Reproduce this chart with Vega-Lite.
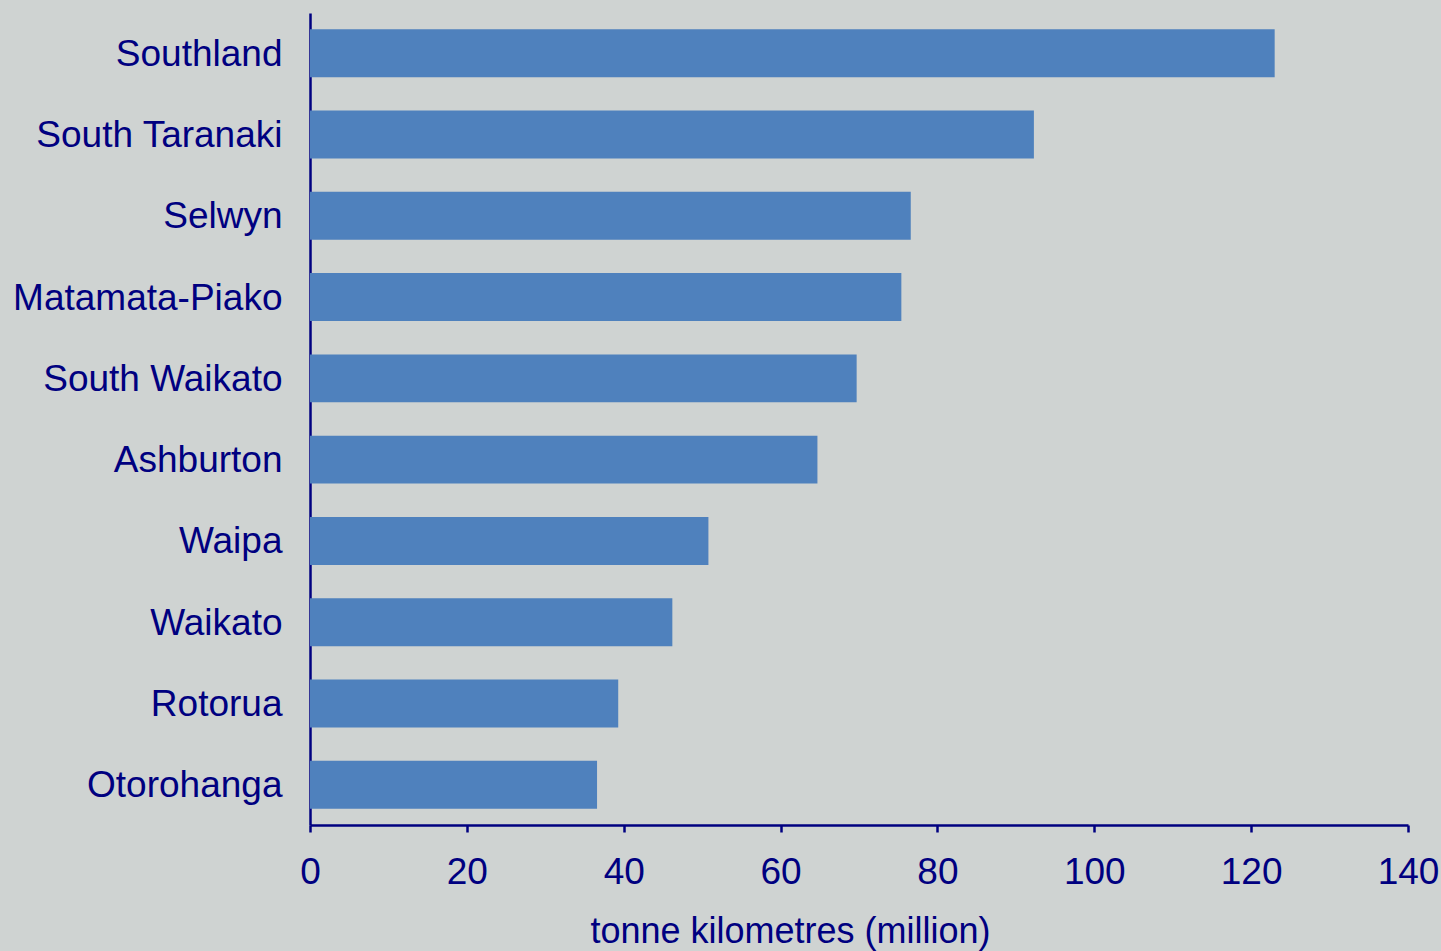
{
  "$schema": "https://vega.github.io/schema/vega-lite/v6.json",
  "autosize": "none",
  "padding": {"left": 310, "top": 13, "right": 33, "bottom": 126},
  "width": 1098,
  "height": 812,
  "background": "#cfd3d2",
  "data": {
    "values": [
      {"district": "Southland", "tkm": 123.0},
      {"district": "South Taranaki", "tkm": 92.3},
      {"district": "Selwyn", "tkm": 76.6},
      {"district": "Matamata-Piako", "tkm": 75.4},
      {"district": "South Waikato", "tkm": 69.7},
      {"district": "Ashburton", "tkm": 64.7},
      {"district": "Waipa", "tkm": 50.8},
      {"district": "Waikato", "tkm": 46.2},
      {"district": "Rotorua", "tkm": 39.3},
      {"district": "Otorohanga", "tkm": 36.6}
    ]
  },
  "mark": {"type": "bar", "color": "#4f81bd"},
  "encoding": {
    "y": {
      "field": "district",
      "type": "nominal",
      "sort": null,
      "scale": {"paddingInner": 0.41, "paddingOuter": 0.2},
      "axis": {
        "title": null,
        "ticks": false,
        "labelPadding": 28,
        "labelOffset": 1.5,
        "labelFontSize": 37,
        "labelLimit": 400
      }
    },
    "x": {
      "field": "tkm",
      "type": "quantitative",
      "scale": {"domain": [0, 140], "nice": false},
      "axis": {
        "title": "tonne kilometres (million)",
        "values": [0, 20, 40, 60, 80, 100, 120, 140],
        "grid": false,
        "tickSize": 7,
        "tickWidth": 2.5,
        "labelPadding": 51,
        "labelBaseline": "alphabetic",
        "labelFontSize": 37,
        "labelFlush": false,
        "labelOverlap": false,
        "titleFontSize": 36,
        "titleX": 480,
        "titleY": 117,
        "titleAlign": "center",
        "titleBaseline": "alphabetic"
      }
    }
  },
  "config": {
    "font": "Liberation Sans",
    "view": {"stroke": null},
    "axis": {
      "domainColor": "#000080",
      "domainWidth": 2.5,
      "tickColor": "#000080",
      "labelColor": "#000080",
      "titleColor": "#000080",
      "titleFontWeight": "normal",
      "labelFont": "Liberation Sans",
      "titleFont": "Liberation Sans"
    }
  }
}
